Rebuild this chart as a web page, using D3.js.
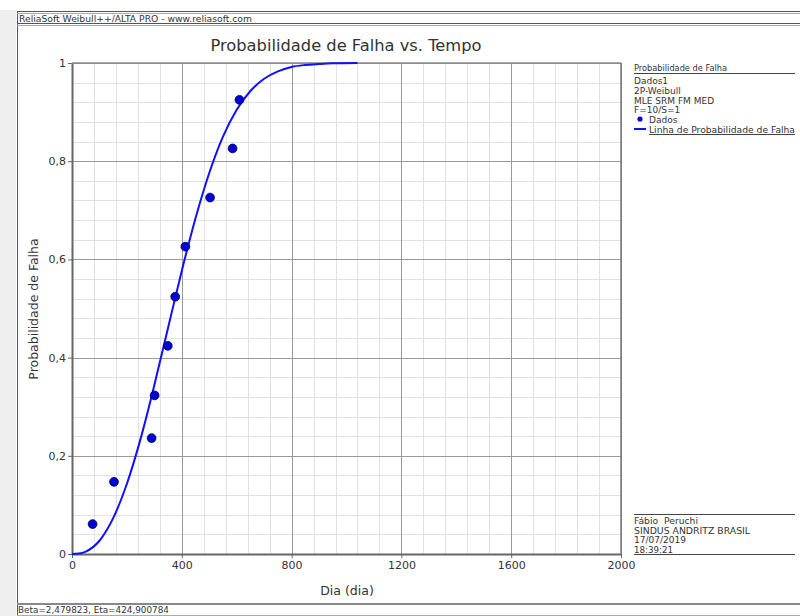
<!DOCTYPE html>
<html><head><meta charset="utf-8">
<script src="https://cdn.jsdelivr.net/npm/d3@7"></script>
<style>body{margin:0;background:#fff}svg{display:block}text{font-family:"DejaVu Sans",Verdana,sans-serif;fill:#333;white-space:pre}</style>
</head><body>
<script>
// ---- data ----
const xTicks = [0, 400, 800, 1200, 1600, 2000];
const yTicks = [0, 0.2, 0.4, 0.6, 0.8, 1];
const yTickLabels = ["0", "0,2", "0,4", "0,6", "0,8", "1"];
const pointDays = [75, 153, 290, 301, 349, 376, 413, 503, 585, 610];
const pointProb = [0.061, 0.147, 0.236, 0.323, 0.424, 0.524, 0.626, 0.726, 0.826, 0.925];
const curveDays = [0, 25, 50, 100, 150, 200, 250, 300, 350, 400, 450, 500, 550, 600, 650, 700, 750, 800, 850, 900, 950, 1040];
const curveProb = [0, 0.001, 0.005, 0.027, 0.073, 0.143, 0.235, 0.344, 0.461, 0.577, 0.684, 0.776, 0.850, 0.905, 0.943, 0.968, 0.983, 0.992, 0.996, 0.998, 0.9994, 1];
const legendLines = ["Dados1", "2P-Weibull", "MLE SRM FM MED", "F=10/S=1"];
const infoLines = ["Fábio  Peruchi", "SINDUS ANDRITZ BRASIL", "17/07/2019", "18:39:21"];

const W = 800, H = 616;
const svg = d3.select("body").append("svg").attr("width", W).attr("height", H);

// frame
svg.append("rect").attr("x",0).attr("y",10).attr("width",16).attr("height",H-10).attr("fill","#efefef");
svg.append("line").attr("x1",17.5).attr("x2",17.5).attr("y1",11).attr("y2",616).attr("stroke","#555");
[11.5, 13.5, 23.5, 25.5].forEach((y,i)=>svg.append("line").attr("x1",17).attr("x2",W).attr("y1",y).attr("y2",y).attr("stroke", i%2? "#aaa":"#555"));
svg.append("line").attr("x1",17).attr("x2",W).attr("y1",604).attr("y2",604).attr("stroke","#888").attr("stroke-width",2);
svg.append("line").attr("x1",17).attr("x2",W).attr("y1",615.5).attr("y2",615.5).attr("stroke","#aaa");
svg.append("text").attr("x",19).attr("y",21.5).attr("font-size",9.5).attr("textLength",233).attr("lengthAdjust","spacingAndGlyphs").text("ReliaSoft Weibull++/ALTA PRO - www.reliasoft.com");
svg.append("text").attr("x",18).attr("y",613).attr("font-size",9.5).attr("textLength",151).attr("lengthAdjust","spacingAndGlyphs").text("Beta=2,479823, Eta=424,900784");

// plot
const x = d3.scaleLinear().domain([0,2000]).range([72,621]);
const y = d3.scaleLinear().domain([0,1]).range([554,63]);
const g = svg.append("g");

const xMinor = d3.range(0, 2001, 80), yMinor = d3.range(0, 1.0001, 0.04);
g.selectAll(".xm").data(xMinor).join("line").attr("x1",d=>Math.round(x(d))+0.5).attr("x2",d=>Math.round(x(d))+0.5).attr("y1",y(0)).attr("y2",y(1)).attr("stroke","#e2e2e2");
g.selectAll(".ym").data(yMinor).join("line").attr("y1",d=>Math.round(y(d))+0.5).attr("y2",d=>Math.round(y(d))+0.5).attr("x1",x(0)).attr("x2",x(2000)).attr("stroke","#e2e2e2");
g.selectAll(".xM").data(xTicks).join("line").attr("x1",d=>Math.round(x(d))+0.5).attr("x2",d=>Math.round(x(d))+0.5).attr("y1",y(0)).attr("y2",y(1)).attr("stroke","#999");
g.selectAll(".yM").data(yTicks).join("line").attr("y1",d=>Math.round(y(d))+0.5).attr("y2",d=>Math.round(y(d))+0.5).attr("x1",x(0)).attr("x2",x(2000)).attr("stroke","#999");

// axes
const xAxis = d3.axisBottom(x).tickValues(xTicks).tickFormat(d3.format("d")).tickSize(4).tickSizeOuter(0).tickPadding(3);
const yAxis = d3.axisLeft(y).tickValues(yTicks).tickFormat((d,i)=>yTickLabels[i]).tickSize(4).tickSizeOuter(0).tickPadding(2);
const ax = svg.append("g").attr("transform",`translate(0,${y(0)})`).call(xAxis);
const ay = svg.append("g").attr("transform",`translate(${x(0)},0)`).call(yAxis);
[ax, ay].forEach(a=>{
  a.select(".domain").attr("stroke","#666").attr("stroke-width",2);
  a.selectAll(".tick line").attr("stroke","#666");
  a.selectAll("text").attr("font-size",11).attr("fill","#333").style("font-family","DejaVu Sans, Verdana, sans-serif");
});
ay.selectAll(".tick text").attr("dy","0.32em");

// plot border (top/right)
svg.append("line").attr("x1",x(0)).attr("x2",x(2000)).attr("y1",y(1)).attr("y2",y(1)).attr("stroke","#888").attr("stroke-width",1.5);
svg.append("line").attr("x1",x(2000)).attr("x2",x(2000)).attr("y1",y(1)).attr("y2",y(0)).attr("stroke","#777").attr("stroke-width",1.5);

// curve
const line = d3.line().x((d,i)=>x(d)).y((d,i)=>y(curveProb[i])).curve(d3.curveMonotoneX);
svg.append("path").attr("d", line(curveDays)).attr("fill","none").attr("stroke","#1010ff").attr("stroke-width",2);

// points
svg.selectAll(".pt").data(pointDays).join("circle").attr("cx",d=>x(d)).attr("cy",(d,i)=>y(pointProb[i])).attr("r",4.4).attr("fill","#0000d8").attr("stroke","#000030").attr("stroke-width",0.8);

// titles
svg.append("text").attr("x",346).attr("y",51).attr("text-anchor","middle").attr("font-size",16.3).text("Probabilidade de Falha vs. Tempo");
svg.append("text").attr("x",347).attr("y",595).attr("text-anchor","middle").attr("font-size",12.5).text("Dia (dia)");
svg.append("text").attr("transform","translate(38,309) rotate(-90)").attr("text-anchor","middle").attr("font-size",12.5).text("Probabilidade de Falha");

// legend
const lx = 634;
svg.append("text").attr("x",lx).attr("y",71).attr("font-size",9).attr("textLength",93).attr("lengthAdjust","spacingAndGlyphs").text("Probabilidade de Falha");
svg.append("line").attr("x1",lx).attr("x2",795).attr("y1",73.5).attr("y2",73.5).attr("stroke","#444");
svg.selectAll(".lg").data(legendLines).join("text").attr("x",lx).attr("y",(d,i)=>84+i*9.8).attr("font-size",9).text(d=>d);
svg.append("circle").attr("cx",lx+6).attr("cy",119).attr("r",2.6).attr("fill","#0000e0");
svg.append("text").attr("x",lx+15).attr("y",123).attr("font-size",9).text("Dados");
svg.append("line").attr("x1",lx).attr("x2",lx+12).attr("y1",129).attr("y2",129).attr("stroke","#1010ff").attr("stroke-width",2);
svg.append("text").attr("x",lx+15).attr("y",132.5).attr("font-size",9).attr("textLength",146).attr("lengthAdjust","spacingAndGlyphs").text("Linha de Probabilidade de Falha");
svg.append("line").attr("x1",lx+15).attr("x2",795).attr("y1",134.5).attr("y2",134.5).attr("stroke","#444");

// info block
svg.append("line").attr("x1",lx).attr("x2",795).attr("y1",514.5).attr("y2",514.5).attr("stroke","#444");
const infoW = [64, 116, 52, 39];
svg.selectAll(".inf").data(infoLines).join("text").attr("x",lx).attr("y",(d,i)=>524+i*9.7).attr("font-size",9).attr("textLength",(d,i)=>infoW[i]).attr("lengthAdjust","spacingAndGlyphs").text(d=>d);
svg.append("line").attr("x1",lx).attr("x2",795).attr("y1",554.5).attr("y2",554.5).attr("stroke","#444");
</script>
</body></html>
